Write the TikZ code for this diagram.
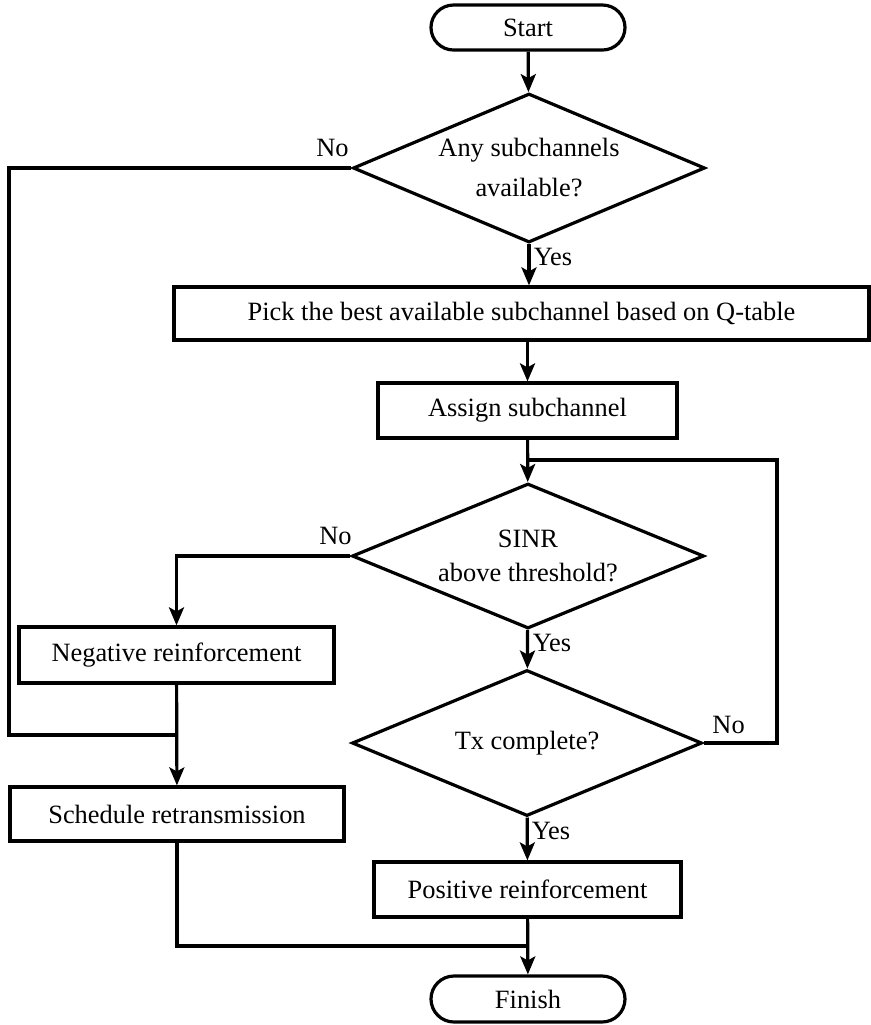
\documentclass[tikz,border=0pt]{standalone}
\usepackage{fontspec}
\setmainfont{Liberation Serif}
\usetikzlibrary{calc,shapes,arrows.meta}

\begin{document}
\begin{tikzpicture}[x=0.5pt,y=-0.5pt,line width=1.6pt,>={Stealth[length=9pt,width=7.5pt,inset=2pt]},
  font=\fontsize{13.2}{15.8}\selectfont,
  box/.style={draw,rectangle,inner sep=2pt},
  term/.style={draw,rounded rectangle,inner sep=2pt},
  cond/.style={draw,diamond,aspect=2.4,inner sep=0pt,align=center}]
 \useasboundingbox (0,0) rectangle (871,1025);

 \node[term,minimum width=101pt,minimum height=22.5pt] (S) at (528,27.5) {Start};
 \node[cond,minimum width=176pt,minimum height=74.5pt] (D1) at (529,168)
  {Any subchannels\\[4.2pt] available?};
 \node[box,minimum width=347.5pt,minimum height=26.5pt] (B1) at (521.5,313.5)
  {Pick the best available subchannel based on Q-table};
 \node[box,minimum width=149.5pt,minimum height=27.5pt] (B2) at (527.5,410.5) {Assign subchannel};
 \node[cond,minimum width=176pt,minimum height=72.5pt] (D2) at (528,556)
  {SINR\\[1.6pt] above threshold?};
 \node[box,minimum width=157.5pt,minimum height=28pt] (B3) at (176.5,655) {Negative reinforcement};
 \node[cond,minimum width=175pt,minimum height=73pt] (D3) at (527,743) {Tx complete?};
 \node[box,minimum width=167pt,minimum height=27pt] (B4) at (177,814) {Schedule retransmission};
 \node[box,minimum width=153.5pt,minimum height=27.5pt] (B5) at (527.5,889.5) {Positive reinforcement};
 \node[term,minimum width=101pt,minimum height=23pt] (F) at (528,999) {Finish};

 \coordinate (L) at (9,0);
 \coordinate (R) at (777,0);
 \coordinate (J1) at (177,735);
 \coordinate (J2) at (528,460);
 \coordinate (J3) at (528,946);

 \draw[->] (S) -- (D1);
 \draw[->] (D1.south) -- (D1.south |- B1.north);
 \draw[->] (B2.north |- B1.south) -- (B2);
 \draw[->] (B2) -- (D2);
 \draw[->] (D2) -- (D3);
 \draw[->] (D3) -- (B5);
 \draw[->] (B5) -- (F);
 \draw[->] (D2.west) -| (B3.north);
 \draw[->] (B3) -- (B4);
 \draw (D1.west) -- (D1.west -| L) |- (J1);
 \draw (D3.east) -| (R |- J2) -- (J2);
 \draw (B4.south) |- (J3);

 \node at ($(D1.west)+(-19,-20)$) {No};
 \node at ($(D2.west)+(-15,-20)$) {No};
 \node at ($(D3.east)+(25,-18)$) {No};
 \node at ($(D1.south)+(24,13)$) {Yes};
 \node at ($(D2.south)+(24,13)$) {Yes};
 \node at ($(D3.south)+(24,13)$) {Yes};
\end{tikzpicture}
\end{document}
